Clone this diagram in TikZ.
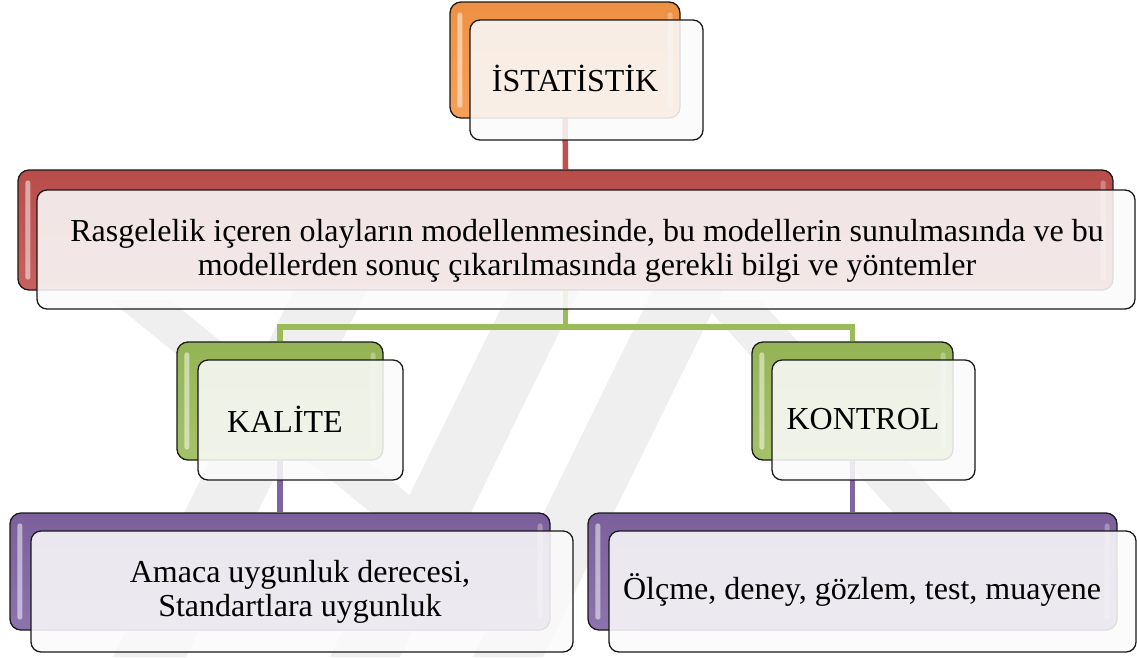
\documentclass[tikz,border=0pt]{standalone}
\usepackage{fontspec}
\setmainfont{Liberation Serif}
\usetikzlibrary{backgrounds}

\definecolor{accOrange}{HTML}{F79646}
\definecolor{accRed}{HTML}{C0504D}
\definecolor{accGreen}{HTML}{9BBB59}
\definecolor{accPurple}{HTML}{8064A2}
\definecolor{wmark}{HTML}{EFEFEF}

\tikzset{
  backbox/.style={draw=black!90, line width=1.3pt, rounded corners=11pt,
    inner sep=0pt, top color=#1!96!black, bottom color=#1!90!white},
  frontbox/.style={draw=black!90, line width=1.3pt, rounded corners=10pt,
    inner sep=0pt, fill=black!2, fill opacity=0.88},
  lbl/.style={font=\fontsize{32}{34}\selectfont, align=center, inner sep=0pt},
  conn/.style={line width=5.5pt, draw=#1},
  band/.style={fill=wmark, draw=none}
}

% light stripes near the left and right edges of a coloured box
\newcommand\boxgloss[1]{%
  \fill[white, opacity=0.5, rounded corners=2.5pt]
    ([xshift=8pt,yshift=-11pt]#1.north west) rectangle ([xshift=13pt,yshift=11pt]#1.south west);
  \fill[white, opacity=0.3, rounded corners=2.5pt]
    ([xshift=-13pt,yshift=-11pt]#1.north east) rectangle ([xshift=-8pt,yshift=11pt]#1.south east);
}

\begin{document}
\begin{tikzpicture}[x=1pt, y=-1pt]
\useasboundingbox (0,0) rectangle (1137,657);

% coloured back boxes
\node[backbox=accOrange, minimum width=230pt, minimum height=116pt] (b1) at (565,60) {};
\node[backbox=accRed, minimum width=1095pt, minimum height=120pt] (b2) at (565.5,230) {};
\node[backbox=accGreen, minimum width=206pt, minimum height=118pt] (b3) at (280,401) {};
\node[backbox=accGreen, minimum width=201pt, minimum height=118pt] (b4) at (852.5,401) {};
\node[backbox=accPurple, minimum width=540pt, minimum height=117pt] (b5) at (280,571.5) {};
\node[backbox=accPurple, minimum width=529pt, minimum height=117pt] (b6) at (852.5,571.5) {};

\boxgloss{b1}
\boxgloss{b2}
\boxgloss{b3}
\boxgloss{b4}
\boxgloss{b5}
\boxgloss{b6}

% pale front boxes
\node[frontbox, minimum width=233pt, minimum height=120pt] (f1) at (586.5,80) {};
\node[frontbox, minimum width=1098pt, minimum height=119pt] (f2) at (586,249.5) {};
\node[frontbox, minimum width=205pt, minimum height=120pt] (f3) at (300.5,420) {};
\node[frontbox, minimum width=203pt, minimum height=120pt] (f4) at (873.5,420) {};
\node[frontbox, minimum width=542pt, minimum height=121pt] (f5) at (302,591.5) {};
\node[frontbox, minimum width=527pt, minimum height=121pt] (f6) at (872.5,591.5) {};

% texts
\node[lbl] (t1) at (575,78) {İSTATİSTİK};
\node[lbl] (t2) at (587,251) {Rasgelelik içeren olayların modellenmesinde, bu modellerin sunulmasında ve bu\\modellerden sonuç çıkarılmasında gerekli bilgi ve yöntemler};
\node[lbl] (t3) at (285,419) {KALİTE};
\node[lbl] (t4) at (863,419) {KONTROL};
\node[lbl] (t5) at (300,592) {Amaca uygunluk derecesi,\\Standartlara uygunluk};
\node[lbl] (t6) at (862,590) {Ölçme, deney, gözlem, test, muayene};

\begin{pgfonlayer}{background}
  % faint diagonal watermark
  \fill[band] (113,657) -- (186,657) -- (367,290) -- (294,290) -- cycle;
  \fill[band] (330,657) -- (400,657) -- (580,290) -- (510,290) -- cycle;
  \fill[band] (473,657) -- (543,657) -- (723,290) -- (653,290) -- cycle;
  \fill[band] (110,300) -- (170,300) -- (440,520) -- (380,520) -- cycle;
  \fill[band] (700,300) -- (760,300) -- (960,520) -- (900,520) -- cycle;

  % connectors
  \coordinate (g) at (565.5,327);
  \draw[conn=accRed] (b1.south) -- (b2.north);
  \draw[conn=accGreen] (b2.south) -- (g) -| (b3.north);
  \draw[conn=accGreen] (g) -| (b4.north);
  \draw[conn=accPurple] (b3.south) -- (b5.north);
  \draw[conn=accPurple] (b4.south) -- (b6.north);
\end{pgfonlayer}
\end{tikzpicture}
\end{document}
